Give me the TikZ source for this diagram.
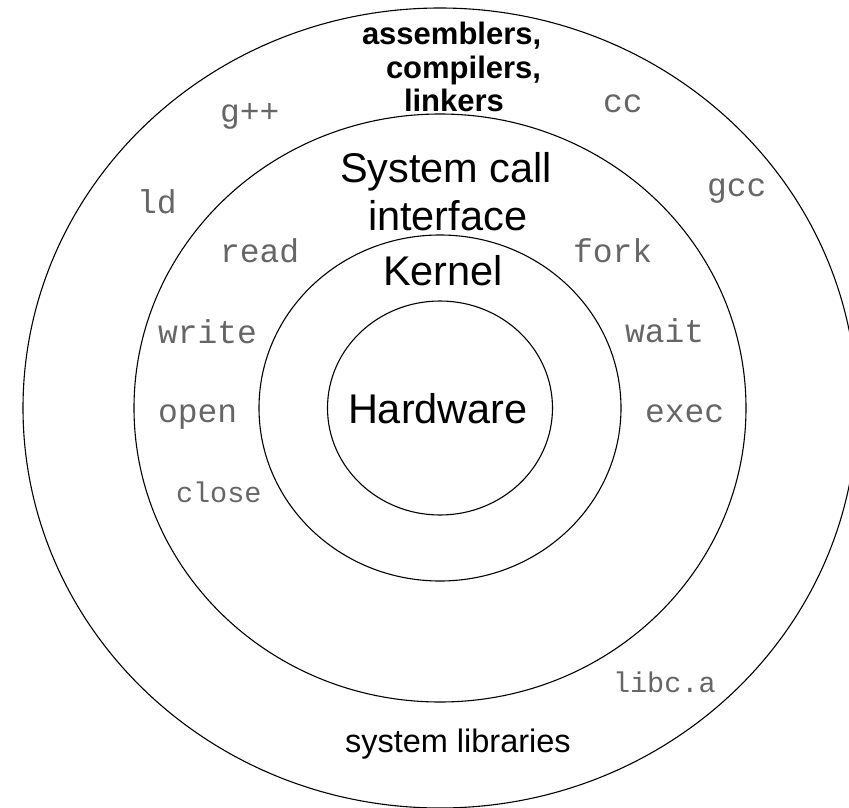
\documentclass[tikz,border=0pt]{standalone}
\usepackage{fontspec}
\setmainfont{Liberation Sans}
\newfontfamily\monof{Liberation Mono}
\tikzset{
  ring/.style={draw=black, line width=1.1pt},
  lbl/.style={inner sep=0pt, outer sep=0pt, anchor=base west},
  big/.style={lbl, font=\fontsize{41.5}{41.5}\selectfont},
  tool/.style={lbl, font=\fontsize{31}{31}\selectfont\bfseries},
  lib/.style={lbl, font=\fontsize{32.5}{32.5}\selectfont},
  call/.style={lbl, text=black!60, font=\monof\fontsize{33}{33}\selectfont},
  smallcall/.style={lbl, text=black!60, font=\monof\fontsize{28.5}{28.5}\selectfont}
}
\begin{document}
\begin{tikzpicture}[x=1pt,y=-1pt]
\useasboundingbox (0,0) rectangle (849,808);
\clip (0,0) rectangle (849,808);
\coordinate (ctr) at (440,408);
\draw[ring] (ctr) ellipse [x radius=112.5pt, y radius=107pt];
\draw[ring] (ctr) ellipse [x radius=181pt, y radius=173pt];
\draw[ring] (ctr) ellipse [x radius=306pt, y radius=294pt];
\draw[ring] (ctr) ellipse [x radius=417pt, y radius=400pt];
% tools
\node[tool] (asm) at (362,45) {assemblers,};
\node[tool] (comp) at (386,78) {compilers,};
\node[tool] (link) at (404,111) {linkers};
% big labels
\node[big] (sys) at (340,182) {System call};
\node[big] (intf) at (368,230) {interface};
\node[big] (kern) at (383,285) {Kernel};
\node[big] (hw) at (348,423) {Hardware};
\node[lib] (slib) at (345,752) {system libraries};
% commands
\node[call] (gpp) at (220,122) {g++};
\node[call] (cc) at (603,113) {cc};
\node[call] (ld) at (137,213) {ld};
\node[call] (gcc) at (707,196) {gcc};
\node[call] (read) at (220,262) {read};
\node[call] (fork) at (573,262) {fork};
\node[call] (write) at (158,343) {write};
\node[call] (wait) at (625,342) {wait};
\node[call] (open) at (158,422) {open};
\node[call] (exec) at (645,422) {exec};
\node[smallcall] (close) at (176,502) {close};
\node[smallcall] (libc) at (613,692) {libc.a};
\end{tikzpicture}
\end{document}
